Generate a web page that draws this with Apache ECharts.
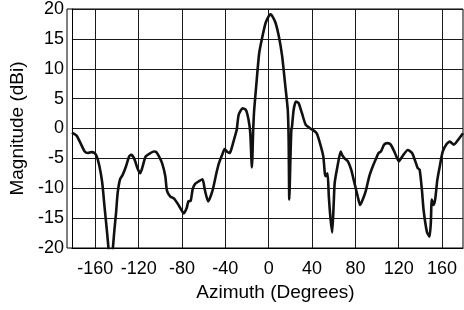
<!DOCTYPE html>
<html>
<head>
<meta charset="utf-8">
<script src="https://cdn.jsdelivr.net/npm/echarts@6/dist/echarts.min.js"></script>
<style>
  html, body { margin: 0; padding: 0; background: #fff; }
  #chart { width: 464px; height: 310px; }
</style>
</head>
<body>
<div id="chart"></div>
<script>
// azimuth pattern
const azimuth = [
  -181.6, -177.3, -173.7, -169.8, -166.8, -163.7, -160.7, -158.6, -156.1, -153.6,
  -151.5, -149.1, -147.6, -146, -144.3, -142.4, -140.9, -139.4, -137.2, -134.9,
  -131.8, -128.8, -126.9, -124.2, -121.2, -118.6, -116.7, -113.6, -109, -106,
  -104, -101.5, -98.4, -95.4, -93.9, -90.8, -87.5, -83.2, -78.4, -75.7,
  -74.1, -72, -70.2, -68, -65, -61.1, -58.9, -55.9, -52, -48.3,
  -45.9, -42.3, -40.7, -38.6, -36.2, -34.7, -31.6, -29.5, -27.7, -24,
  -21, -18.6, -17, -15.5, -14.3, -13.4, -11.3, -8.8, -5.8, -2.8,
  0.3, 1.7, 3.3, 6.3, 9.4, 12.4, 15.4, 17.6, 18.4, 19,
  20.2, 20.9, 21.5, 23, 25.1, 27.6, 30.6, 34.2, 38.2, 42,
  44.3, 47.3, 50.4, 51.8, 52.7, 54.3, 55.5, 57, 58.6, 60,
  60.9, 63.4, 66.4, 67.7, 70, 73.1, 76.1, 79.1, 82.2, 84.3,
  86.8, 89.8, 92.8, 95.9, 98.9, 101.4, 103.5, 106.5, 109.6, 112.6,
  116.5, 120.1, 123.2, 128.3, 132.3, 135.3, 137.4, 139.3, 141.4, 142.9,
  146, 148.4, 149.6, 150.5, 152, 153.6, 155.6, 158.1, 160.6, 164.2,
  167.2, 170.9, 174.8, 179.3
];
const magnitude = [
  -0.7, -1.2, -2.45, -3.85, -4.1, -3.95, -4.1, -4.7, -6.4, -9.1,
  -13.1, -17.5, -20.5, -23, -21, -17, -14.2, -10.8, -8.5, -7.8,
  -6.4, -4.7, -4.4, -5, -6.6, -7.5, -6.6, -4.7, -4.1, -3.85,
  -3.9, -4.6, -5.8, -8, -10.4, -11.4, -11.7, -12.8, -14.2, -13.3,
  -12.2, -12.1, -10.2, -9.3, -8.9, -8.5, -10.3, -12.2, -10.5, -7.5,
  -5.8, -4.1, -3.45, -3.85, -4.1, -3.6, -1.6, -0.2, 2.3, 3.4,
  3.1, 1.45, -0.8, -6.5, -0.2, 3.1, 7.6, 12.6, 15.4, 17.7,
  18.9, 19.1, 18.8, 17.7, 15.4, 12.1, 7, 3.1, -1.9, -11.9,
  -4, -0.2, 0.3, 3.1, 4.5, 4.25, 2.6, 0.6, 0.05, -0.4,
  -0.8, -2.45, -4.7, -7.5, -8, -7.5, -11.4, -15, -17.4, -12.5,
  -9.1, -6.4, -3.85, -4.4, -5, -5.5, -6.9, -9.1, -11.4, -12.8,
  -11.9, -10.3, -8, -6.4, -5.1, -4.1, -3.85, -2.7, -2.45, -2.7,
  -4.1, -5.5, -4.7, -3.6, -4.1, -5.5, -6.6, -6.9, -10.3, -13.6,
  -17.3, -18.1, -15.8, -11.9, -12.8, -11.9, -8.6, -6.1, -3.85, -2.6,
  -2.2, -2.7, -1.9, -0.8
];
const xTicks = [-160, -120, -80, -40, 0, 40, 80, 120, 160];

const chart = echarts.init(document.getElementById('chart'));

const gridColor = '#1a1a1a';
const font = 'Liberation Sans, Arial, sans-serif';

chart.setOption({
  animation: false,
  backgroundColor: '#fff',
  grid: { left: 67, right: 1, top: 9, bottom: 62 },
  xAxis: {
    type: 'value',
    min: -181.6,
    max: 179.3,
    name: 'Azimuth (Degrees)',
    nameLocation: 'middle',
    nameGap: 34,
    nameTextStyle: { fontFamily: font, fontSize: 19, color: '#000', padding: [0, 0, 0, 16] },
    axisLine: { show: true, onZero: false, lineStyle: { color: '#000', width: 1 } },
    axisTick: { show: false, customValues: xTicks },
    axisLabel: { customValues: xTicks, fontFamily: font, fontSize: 18, color: '#000', margin: 12 },
    splitLine: { show: true, lineStyle: { color: gridColor, width: 1 } }
  },
  yAxis: {
    type: 'value',
    min: -20,
    max: 20,
    interval: 5,
    name: 'Magnitude (dBi)',
    nameLocation: 'middle',
    nameGap: 38,
    nameTextStyle: { fontFamily: font, fontSize: 19, color: '#000' },
    axisLine: { show: true, onZero: false, lineStyle: { color: '#000', width: 1 } },
    axisTick: { show: false },
    axisLabel: { fontFamily: font, fontSize: 18, color: '#000', margin: 8 },
    splitLine: { show: true, lineStyle: { color: gridColor, width: 1 } }
  },
  series: [{
    type: 'line',
    data: azimuth.map((a, i) => [a, magnitude[i]]),
    showSymbol: false,
    clip: true,
    smooth: 0.2,
    lineStyle: { color: '#111', width: 2.6 }
  }],
  graphic: [{
    type: 'rect',
    shape: { x: 67, y: 9, width: 396, height: 239 },
    style: { fill: 'none', stroke: '#000', lineWidth: 1 },
    silent: true
  }]
});
</script>
</body>
</html>
